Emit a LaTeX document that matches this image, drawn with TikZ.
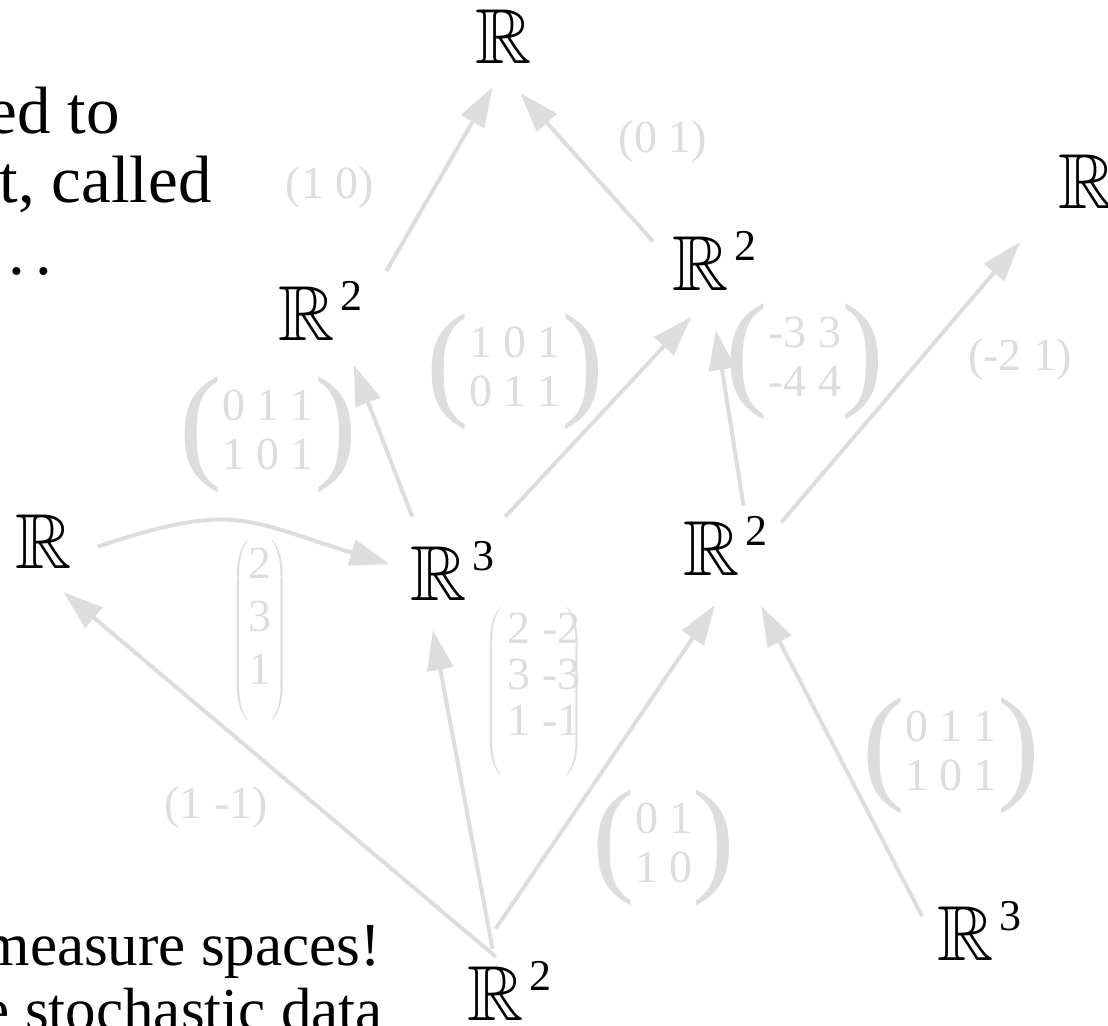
\RequirePackage{fix-cm}
\documentclass[tikz,border=0pt]{standalone}
\usepackage{amsmath,amssymb}
\usepackage{fontspec}
\setmainfont{Liberation Serif}
\usetikzlibrary{arrows.meta}
\definecolor{edgegray}{RGB}{221,221,221}
\newcommand{\realsp}[1]{$\mathbb{R}$\hspace{3pt}\raisebox{15pt}{\fontsize{22}{22}\selectfont #1}}
\newcommand{\bigparen}[1]{\vcenter{\hbox{\fontsize{64}{64}\selectfont #1}}}
\newcommand{\twomat}[1]{$\bigparen{(}\vcenter{\hbox{\fontsize{23}{24.5}\selectfont\begin{tabular}{@{}c@{}}#1\end{tabular}}}\bigparen{)}$}
\newcommand{\threemat}[4]{{\fontsize{10}{12}\selectfont$\left(\vcenter{\hbox{\fontsize{23}{#1}\selectfont\rule[-44pt]{0pt}{88pt}\begin{tabular}{@{\hspace{#2}}c@{\hspace{#2}}}#3\end{tabular}\kern#4}}\right)$}}

\begin{document}
\begin{tikzpicture}[
    x=0.5pt, y=-0.5pt,
    space/.style={inner sep=0pt, outer sep=0pt, anchor=base west, font=\fontsize{39}{39}\selectfont},
    lab/.style={inner sep=0pt, text=edgegray, font=\fontsize{23}{24.5}\selectfont},
    arr/.style={draw=edgegray, line width=2pt, -{Triangle[length=20pt, width=13pt]}},
    slide/.style={inner sep=0pt, anchor=base east}
]
\useasboundingbox (0,0) rectangle (1108,1025);
\clip (0,0) rectangle (1108,1025);

% slide text behind the diagram
\node[slide, font=\fontsize{33.5}{40}\selectfont] (txta) at (120,133) {ed to};
\node[slide, font=\fontsize{33.5}{40}\selectfont] (txtb) at (212,202) {t, called};
\node[slide, anchor=base west, font=\fontsize{33.5}{40}\selectfont] (txtc) at (8,274) {.\hspace{0.15em}.};
\node[slide, font=\fontsize{30.5}{33}\selectfont] (txtd) at (381,965) {measure spaces!};
\node[slide, font=\fontsize{30.5}{33}\selectfont] (txte) at (383,1030) {e stochastic data};

% spaces
\node[space] (r1top) at (475,63) {$\mathbb{R}$};
\node[space] (r1right) at (1058,208) {$\mathbb{R}$};
\node[space] (r1left) at (15,568) {$\mathbb{R}$};
\node[space] (r2left) at (278,340) {\realsp{2}};
\node[space] (r2right) at (672,290) {\realsp{2}};
\node[space] (r3mid) at (410,600) {\realsp{3}};
\node[space] (r2mid) at (683,575) {\realsp{2}};
\node[space] (r2bot) at (467,1020) {\realsp{2}};
\node[space] (r3bot) at (937,960) {\realsp{3}};

% maps
\draw[arr, shorten <=24pt, shorten >=13.9pt] (r2left.-3.45) -- (r1top.-83.9);
\draw[arr, shorten <=14.3pt, shorten >=20.1pt] (r2right.183.2) -- (r1top.250);
\draw[arr, shorten <=12.9pt, shorten >=13.4pt] (r3mid.136.1) -- (r2left.-51.9);
\draw[arr, shorten <=16.4pt, shorten >=18.4pt] (r3mid.44.8) -- (r2right.-86.8);
\draw[arr, shorten <=5.1pt, shorten >=20.2pt] (r2mid.56.8) -- (r2right.-99);
\draw[arr, shorten <=10.8pt, shorten >=29.3pt] (r2mid.9) -- (r1right.210.5);
\draw[arr, shorten <=13.7pt, shorten >=10.5pt] (r1left.-27.7) to[out=18.5, in=163, looseness=1.3] (r3mid.180);
\draw[arr, shorten <=3.1pt, shorten >=18.6pt] (r2bot.106.9) -- (r1left.-107.3);
\draw[arr, shorten <=6.1pt, shorten >=15.3pt] (r2bot.116.3) -- (r3mid.-130.9);
\draw[arr, shorten <=19.3pt, shorten >=18.1pt] (r2bot.140.4) -- (r2mid.-71.5);
\draw[arr, shorten <=16.2pt, shorten >=17.5pt] (r3bot.199.6) -- (r2mid.-56.2);

% matrices
\node[lab] (lab10) at (330,187) {(1 0)};
\node[lab] (lab01) at (663,141) {(0 1)};
\node[lab] (mat011) at (268,435) {\twomat{0 1 1\\1 0 1}};
\node[lab] (mat101) at (515,372) {\twomat{1 0 1\\0 1 1}};
\node[lab] (mat33) at (805,362) {\twomat{-3 3\\-4 4}};
\node[lab] (lab21) at (1020,359) {(-2 1)};
\node[lab] (vec231) at (260,631) {\threemat{26.5pt}{0pt}{2\\3\\1}{0pt}};
\node[lab] (lab11) at (216,807) {(1 -1)};
\node[lab] (mat22) at (534,692) {\threemat{23pt}{3pt}{2 -2\\3 -3\\1 -1}{-10pt}};
\node[lab] (mat0110) at (664,848) {\twomat{0 1\\1 0}};
\node[lab] (mat011b) at (951,756) {\twomat{0 1 1\\1 0 1}};

\end{tikzpicture}
\end{document}
